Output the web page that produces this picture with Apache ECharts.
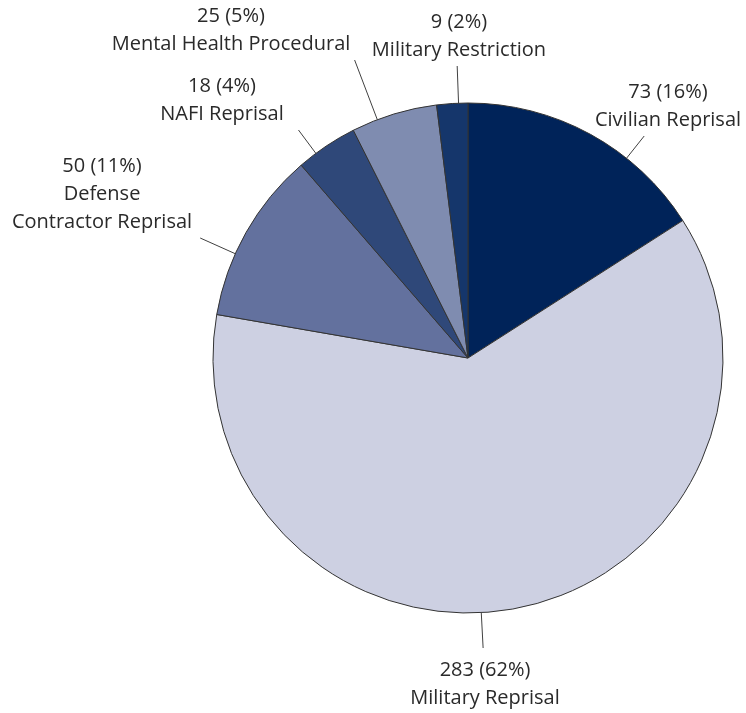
<!DOCTYPE html>
<html>
<head>
<meta charset="utf-8">
<script src="https://cdn.jsdelivr.net/npm/echarts@6/dist/echarts.min.js"></script>
<style>
  html, body { margin: 0; padding: 0; background: #fff; }
  #chart { width: 746px; height: 713px; }
</style>
</head>
<body>
<div id="chart"></div>
<script>
  // data, clockwise from 12 o'clock
  const categories = ['Civilian Reprisal', 'Military Reprisal', 'Defense\nContractor Reprisal',
    'NAFI Reprisal', 'Mental Health Procedural', 'Military Restriction'];
  const counts = [73, 283, 50, 18, 25, 9];
  const percents = [16, 62, 11, 4, 5, 2];

  const sliceColors = ['#002359', '#cdd0e2', '#63719e', '#2f4879', '#7f8cb0', '#15366b'];
  // where each label block sits (centre of text block)
  const labelSpots = [[668, 106], [485, 684], [102, 194], [222, 100], [231, 30], [459, 36]];

  const pieCenter = [468, 358];
  const pieRadius = 255;
  const total = counts.reduce((a, b) => a + b, 0);

  // leader line: radial stroke, aimed at the label but kept inside its own slice,
  // running out until it nearly reaches the label block
  function leaderPoints(i, labelH) {
    let before = 0;
    for (let k = 0; k < i; k++) before += counts[k];
    const a0 = 90 - before / total * 360;               // slice start (deg, ccw from x axis)
    const a1 = 90 - (before + counts[i]) / total * 360; // slice end
    const s = labelSpots[i];
    let dir = Math.atan2(pieCenter[1] - s[1], s[0] - pieCenter[0]) * 180 / Math.PI;
    while (dir > a0 + 180) dir -= 360;
    while (dir < a1 - 180) dir += 360;
    const margin = (a0 - a1) * 0.3;
    const t = Math.min(Math.max(dir, a1 + margin), a0 - margin) * Math.PI / 180;
    const above = s[1] < pieCenter[1];
    const targetY = above ? s[1] + labelH / 2 + 2 : s[1] - labelH / 2 - 8;
    const rEnd = Math.max((pieCenter[1] - targetY) / Math.sin(t), pieRadius + 12);
    const pt = (r) => [pieCenter[0] + r * Math.cos(t), pieCenter[1] - r * Math.sin(t)];
    return [pt(pieRadius), pt(rEnd)];
  }

  let myChart = echarts.init(document.getElementById('chart'));
  let option = {
    animation: false,
    series: [
      {
        type: 'pie',
        center: pieCenter,
        radius: pieRadius,
        startAngle: 90,
        clockwise: true,
        avoidLabelOverlap: false,
        data: categories.map((name, i) => ({
          name: name,
          value: counts[i],
          itemStyle: { color: sliceColors[i] }
        })),
        itemStyle: {
          borderColor: '#333',
          borderWidth: 1
        },
        label: {
          show: true,
          position: 'outside',
          formatter: (p) => counts[p.dataIndex] + ' (' + percents[p.dataIndex] + '%)\n' + p.name,
          fontFamily: 'Open Sans',
          fontSize: 20,
          lineHeight: 28,
          color: '#2a2a2a',
          align: 'center'
        },
        labelLine: {
          show: true,
          length: 10,
          length2: 0,
          lineStyle: { color: '#404040', width: 1 }
        },
        labelLayout: (params) => {
          const s = labelSpots[params.dataIndex];
          return {
            x: s[0], y: s[1], align: 'center', verticalAlign: 'middle',
            labelLinePoints: leaderPoints(params.dataIndex, params.labelRect.height)
          };
        }
      }
    ]
  };
  myChart.setOption(option);
  window.addEventListener('resize', function () { myChart.resize(); });
</script>
</body>
</html>
